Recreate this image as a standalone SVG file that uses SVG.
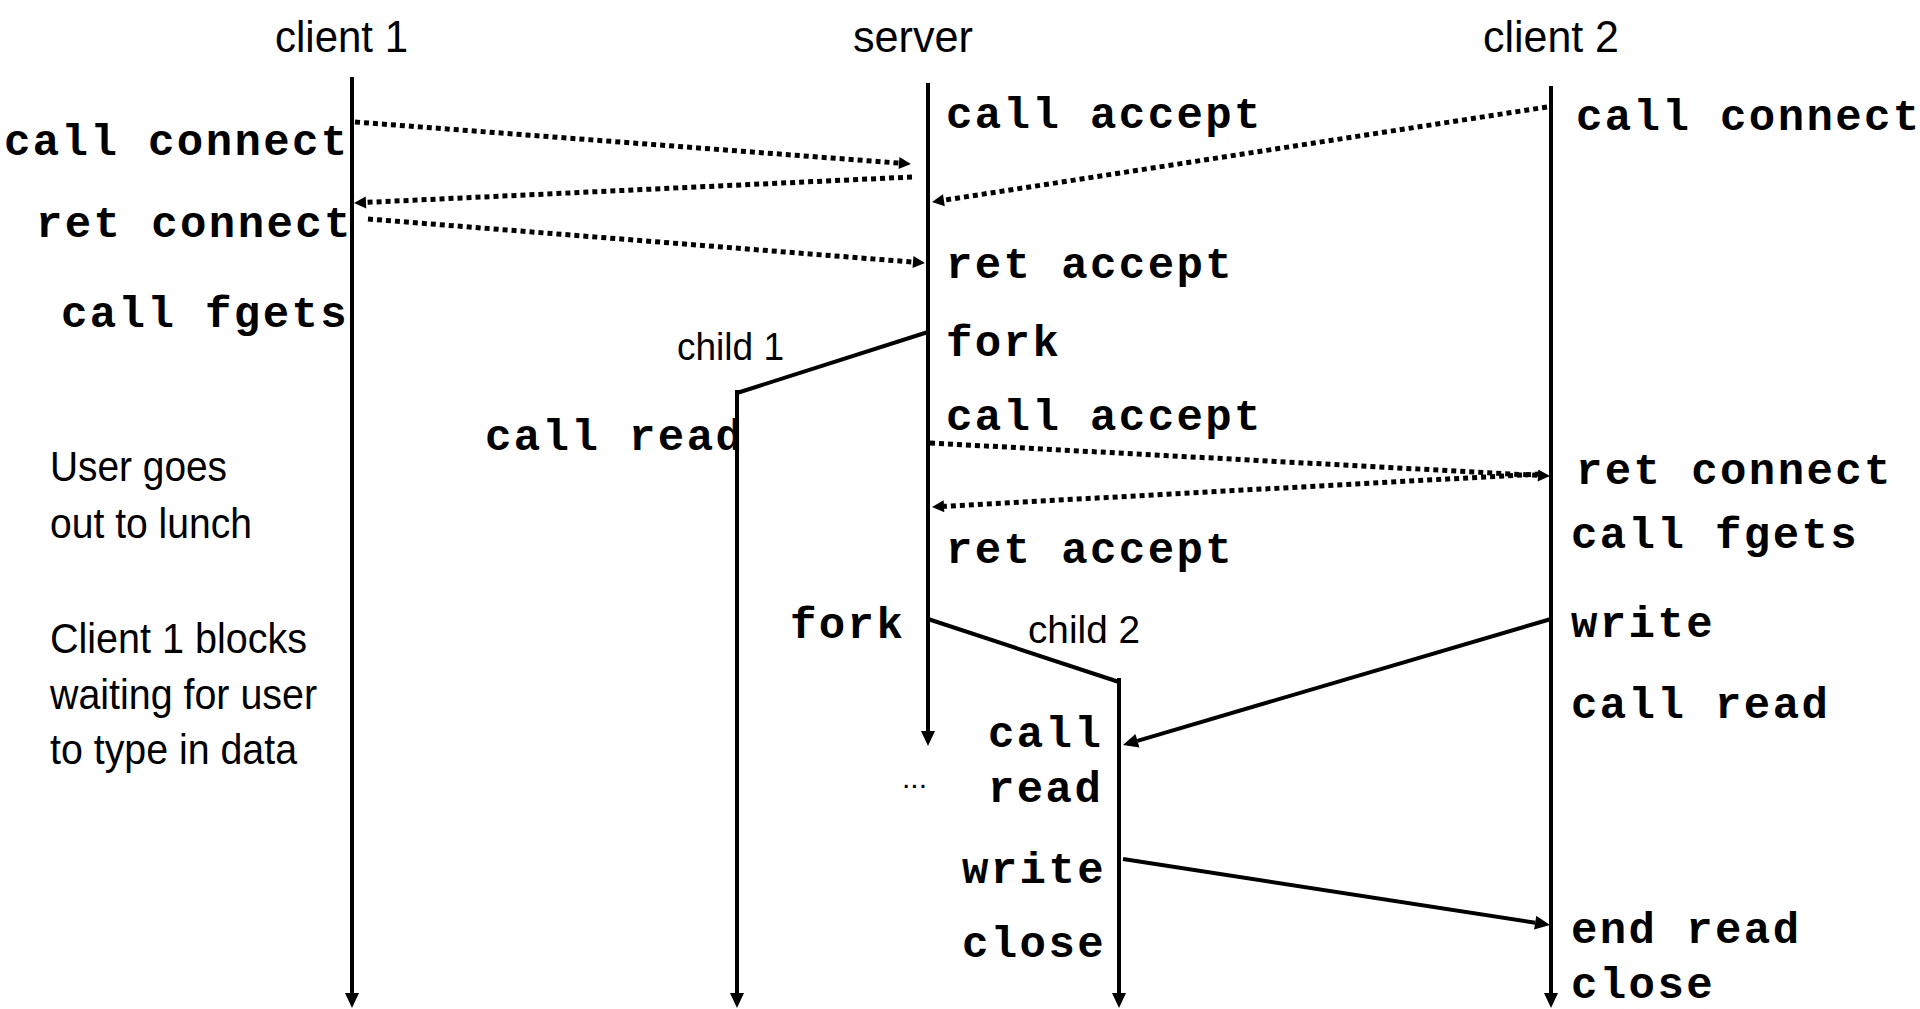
<svg xmlns="http://www.w3.org/2000/svg" width="1920" height="1009" viewBox="0 0 1920 1009">
<style>
.title{font-family:"Liberation Sans",Arial,sans-serif;font-size:44px;fill:#000}
.note{font-family:"Liberation Sans",Arial,sans-serif;font-size:42px;fill:#000}
.child{font-family:"Liberation Sans",Arial,sans-serif;font-size:39px;fill:#000}
.code{font-family:"Liberation Mono","Courier New",monospace;font-weight:bold;font-size:44px;letter-spacing:2.4px;fill:#000}
.life{stroke:#000;stroke-width:4;fill:none}
.solid{stroke:#000;stroke-width:4;fill:none}
.dot{stroke:#000;stroke-width:5;fill:none;stroke-dasharray:5 4}
</style>
<defs>
<marker id="ah" markerUnits="userSpaceOnUse" markerWidth="15" markerHeight="14" refX="0" refY="7" orient="auto" overflow="visible">
<path d="M0,0 L15,7 L0,14 z" fill="#000"/>
</marker>
<marker id="ahd" markerUnits="userSpaceOnUse" markerWidth="12" markerHeight="12" refX="0" refY="6" orient="auto" overflow="visible">
<path d="M0,0 L12,6 L0,12 z" fill="#000"/>
</marker>
</defs>
<rect width="1920" height="1009" fill="#fff"/>

<g id="client1">
<text class="title" x="275" y="52" textLength="133" lengthAdjust="spacingAndGlyphs">client 1</text>
<line class="life" x1="352" y1="77" x2="352" y2="993" marker-end="url(#ah)"/>
<text class="code" x="4" y="155">call connect</text>
<text class="code" x="36" y="237">ret connect</text>
<text class="code" x="61" y="327">call fgets</text>
</g>

<g id="server">
<text class="title" x="853" y="52" textLength="120" lengthAdjust="spacingAndGlyphs">server</text>
<line class="life" x1="928" y1="83" x2="928" y2="731" marker-end="url(#ah)"/>
<text class="code" x="946" y="128">call accept</text>
<text class="code" x="946" y="278">ret accept</text>
<text class="code" x="946" y="356">fork</text>
<text class="code" x="946" y="430">call accept</text>
<text class="code" x="946" y="563">ret accept</text>
<text class="code" x="790" y="638">fork</text>
<text class="note" x="902" y="788" style="font-size:30px">...</text>
</g>

<g id="client2">
<text class="title" x="1483" y="52" textLength="136" lengthAdjust="spacingAndGlyphs">client 2</text>
<line class="life" x1="1551" y1="86" x2="1551" y2="993" marker-end="url(#ah)"/>
<text class="code" x="1576" y="130">call connect</text>
<text class="code" x="1576" y="484">ret connect</text>
<text class="code" x="1571" y="548">call fgets</text>
<text class="code" x="1571" y="637">write</text>
<text class="code" x="1571" y="718">call read</text>
<text class="code" x="1571" y="943">end read</text>
<text class="code" x="1571" y="998">close</text>
</g>

<g id="child1">
<text class="child" x="677" y="360" textLength="107" lengthAdjust="spacingAndGlyphs">child 1</text>
<line class="life" x1="737" y1="390" x2="737" y2="993" marker-end="url(#ah)"/>
<text class="code" x="485" y="450">call read</text>
</g>

<g id="child2">
<text class="child" x="1028" y="643" textLength="112" lengthAdjust="spacingAndGlyphs">child 2</text>
<line class="life" x1="1119" y1="678" x2="1119" y2="993" marker-end="url(#ah)"/>
<text class="code" x="988" y="747">call</text>
<text class="code" x="988" y="802">read</text>
<text class="code" x="962" y="883">write</text>
<text class="code" x="962" y="957">close</text>
</g>

<g id="notes">
<text class="note" x="50" y="481" textLength="177" lengthAdjust="spacingAndGlyphs">User goes</text>
<text class="note" x="50" y="538" textLength="202" lengthAdjust="spacingAndGlyphs">out to lunch</text>
<text class="note" x="50" y="653" textLength="257" lengthAdjust="spacingAndGlyphs">Client 1 blocks</text>
<text class="note" x="50" y="709" textLength="267" lengthAdjust="spacingAndGlyphs">waiting for user</text>
<text class="note" x="50" y="764" textLength="247" lengthAdjust="spacingAndGlyphs">to type in data</text>
</g>

<g id="connectors">
<line class="solid" x1="737" y1="393" x2="928" y2="332"/>
<line class="solid" x1="928" y1="619" x2="1119" y2="682"/>
<line class="dot" x1="355" y1="122" x2="899" y2="163.1" marker-end="url(#ahd)"/>
<line class="dot" x1="912" y1="177" x2="366" y2="202.4" marker-end="url(#ahd)"/>
<line class="dot" x1="368" y1="219" x2="913" y2="262.1" marker-end="url(#ahd)"/>
<line class="dot" x1="1547" y1="107" x2="943.9" y2="200.2" marker-end="url(#ahd)"/>
<line class="dot" x1="930" y1="443" x2="1538" y2="475.4" marker-end="url(#ahd)"/>
<line class="dot" x1="1540" y1="474" x2="944" y2="506.3" marker-end="url(#ahd)"/>
<line class="solid" x1="1551" y1="619" x2="1137.4" y2="740.8" marker-end="url(#ah)"/>
<line class="solid" x1="1123" y1="859" x2="1535.2" y2="922.7" marker-end="url(#ah)"/>
</g>
</svg>
